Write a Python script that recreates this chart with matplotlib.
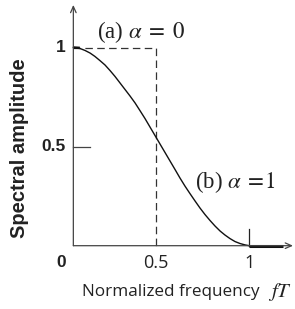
import matplotlib
matplotlib.use("Agg")
import matplotlib.pyplot as plt

# Curve (b) alpha = 1
freq_b = [0.054, 0.090, 0.117, 0.144, 0.170, 0.197, 0.224, 0.251, 0.278, 0.305,
          0.332, 0.359, 0.386, 0.412, 0.439, 0.466, 0.493, 0.520, 0.547, 0.574,
          0.601, 0.627, 0.654, 0.681, 0.708, 0.735, 0.762, 0.789, 0.816, 0.843,
          0.869, 0.896, 0.923, 0.950, 0.977, 1.0]
amp_b = [1.000, 0.995, 0.985, 0.972, 0.955, 0.934, 0.912, 0.884, 0.854, 0.821,
         0.788, 0.755, 0.720, 0.682, 0.642, 0.599, 0.556, 0.513, 0.470, 0.427,
         0.384, 0.342, 0.301, 0.263, 0.226, 0.190, 0.157, 0.127, 0.099, 0.074,
         0.054, 0.036, 0.021, 0.011, 0.004, 0.0]
# flat zero tail beyond fT = 1
tail_f = [1.0, 1.183]
tail_a = [0.0, 0.0]
# Curve (a) alpha = 0 (ideal rectangle)
freq_a = [0.054, 0.5, 0.5]
amp_a = [1.0, 1.0, 0.0]

axis_x0 = 0.054
xticks = [0.5, 1]
xtick_labels = ["0.5", "1"]
yticks = [1, 0.5]
ytick_labels = ["1", "0.5"]

fig = plt.figure(figsize=(2.95, 3.09), dpi=100)
ax = fig.add_axes([0, 0, 1, 1])
ax.set_xlim(-0.3403, 1.2457)
ax.set_ylim(-0.3194, 1.2397)
ax.axis("off")

axc = "#444444"
# axes with arrows
ax.annotate("", xy=(axis_x0, 1.215), xytext=(axis_x0, 0.0),
            arrowprops=dict(arrowstyle="->,head_length=0.45,head_width=0.2", color=axc, lw=0.9, shrinkA=0, shrinkB=0))
ax.annotate("", xy=(1.235, 0.0), xytext=(axis_x0, 0.0),
            arrowprops=dict(arrowstyle="->,head_length=0.45,head_width=0.2", color=axc, lw=0.9, shrinkA=0, shrinkB=0))

# inward tick marks
ax.plot([axis_x0, axis_x0 + 0.091], [0.5, 0.5], color=axc, lw=0.9)
ax.plot([1, 1], [0, 0.086], color="#222222", lw=0.9)

# curves
ax.plot(freq_a, amp_a, color="#333333", lw=0.9, linestyle=(0, (6, 3.5)))
ax.plot(freq_b, amp_b, color="#111111", lw=1.0)
ax.plot(tail_f, tail_a, color="#111111", lw=2.2, solid_capstyle="butt")
ax.plot([axis_x0, axis_x0 + 0.035], [1.0, 0.998], color="#111111", lw=1.8, solid_capstyle="butt")

# tick labels
for t, lab in zip(yticks, ytick_labels):
    ax.text(axis_x0 - 0.04, t, lab, ha="right", va="center", fontsize=12.5,
            fontweight="bold", family="Liberation Sans", color="#222222")
ax.text(-0.012, -0.087, "0", ha="center", va="center", fontsize=12.5,
        fontweight="bold", family="Liberation Sans", color="#222222")
for t, lab in zip(xticks, xtick_labels):
    ax.text(t, -0.087, lab, ha="center", va="center", fontsize=13,
            family="Open Sans", color="#222222")

# axis titles
ax.text(0.099, -0.235, "Normalized frequency", ha="left", va="center", fontsize=12.3,
        family="Open Sans", color="#222222")
ax.text(1.165, -0.235, "$fT$", ha="center", va="center", fontsize=15, color="#222222",
        math_fontfamily="stix")
ax.text(-0.238, 0.493, "Spectral amplitude", ha="center", va="center", rotation=90,
        fontsize=14.5, fontweight="bold", family="Liberation Sans", color="#222222")

# curve labels
ax.text(0.181, 1.076, r"(a) $\alpha\;=\;0$", ha="left", va="center", fontsize=16.5,
        family="Liberation Serif", math_fontfamily="stix", color="#222222")
ax.text(0.708, 0.321, r"(b) $\alpha\;=\!1$", ha="left", va="center", fontsize=16.5,
        family="Liberation Serif", math_fontfamily="stix", color="#222222")

fig.savefig("out.png", dpi=100)
